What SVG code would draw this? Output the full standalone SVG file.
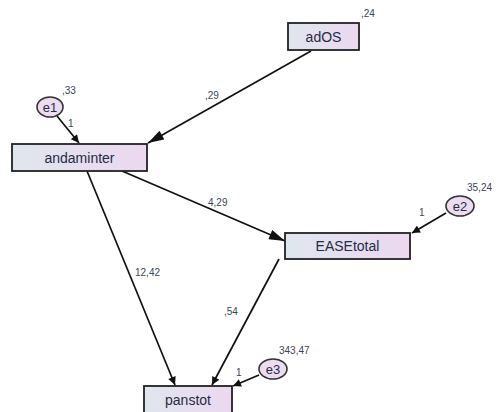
<svg xmlns="http://www.w3.org/2000/svg" width="503" height="412" viewBox="0 0 503 412">
<defs>
<linearGradient id="g" x1="0" y1="0" x2="1" y2="0">
<stop offset="0" stop-color="#dfe6ee"/>
<stop offset="1" stop-color="#ecd8f0"/>
</linearGradient>
<marker id="ah" viewBox="0 0 10 10" refX="10" refY="5" markerWidth="11" markerHeight="8" markerUnits="userSpaceOnUse" orient="auto">
<path d="M0,0 L10,5 L0,10 z" fill="#111"/>
</marker>
<marker id="ahb" viewBox="0 0 16 10" refX="16" refY="5" markerWidth="17" markerHeight="10" markerUnits="userSpaceOnUse" orient="auto">
<path d="M0,0 L16,5 L0,10 z" fill="#111"/>
</marker>
</defs>
<style>
.box{fill:url(#g);stroke:#222;stroke-width:1.8}
.err{fill:#ecdcf0;stroke:#333;stroke-width:1.6}
.nt{font-family:"Liberation Sans",Arial,sans-serif;font-size:14px;fill:#262b45;text-anchor:middle}
.et{font-family:"Liberation Sans",Arial,sans-serif;font-size:13px;fill:#262b45;text-anchor:middle}
.lb{font-family:"Liberation Sans",Arial,sans-serif;font-size:10px;fill:#3a4560}
.c{stroke:#111;stroke-width:1.7;fill:none}
</style>
<rect width="503" height="412" fill="#fff"/>
<g id="connectors">
<line class="c" x1="311" y1="51" x2="148" y2="143" marker-end="url(#ahb)"/>
<line class="c" x1="57" y1="116" x2="79" y2="143" marker-end="url(#ah)"/>
<line class="c" x1="122" y1="171" x2="285" y2="241" marker-end="url(#ahb)"/>
<line class="c" x1="446" y1="213" x2="412" y2="233" marker-end="url(#ah)"/>
<line class="c" x1="87" y1="171" x2="175" y2="385" marker-end="url(#ah)"/>
<line class="c" x1="279" y1="259" x2="212" y2="385" marker-end="url(#ah)"/>
<line class="c" x1="259" y1="375" x2="233" y2="386" marker-end="url(#ah)"/>
<text class="lb" x="205" y="99">,29</text>
<text class="lb" x="68" y="127">1</text>
<text class="lb" x="208" y="206">4,29</text>
<text class="lb" x="419" y="216">1</text>
<text class="lb" x="135" y="276">12,42</text>
<text class="lb" x="224" y="315">,54</text>
<text class="lb" x="236" y="376">1</text>
</g>
<g id="adOS">
<rect class="box" x="288" y="23" width="71" height="27"/>
<text class="nt" x="323.5" y="41.5">adOS</text>
<text class="lb" x="361" y="17">,24</text>
</g>
<g id="e1">
<ellipse class="err" cx="50" cy="107" rx="13" ry="10"/>
<text class="et" x="50" y="111.5">e1</text>
<text class="lb" x="62" y="94">,33</text>
</g>
<g id="andaminter">
<rect class="box" x="12" y="144" width="135" height="27"/>
<text class="nt" x="79.5" y="162.5">andaminter</text>
</g>
<g id="EASEtotal">
<rect class="box" x="285" y="233" width="125" height="26"/>
<text class="nt" x="347.5" y="251">EASEtotal</text>
</g>
<g id="e2">
<ellipse class="err" cx="460" cy="206" rx="14" ry="10"/>
<text class="et" x="460" y="210.5">e2</text>
<text class="lb" x="467" y="191">35,24</text>
</g>
<g id="e3">
<ellipse class="err" cx="273" cy="369" rx="14" ry="10"/>
<text class="et" x="273" y="373.5">e3</text>
<text class="lb" x="279" y="354">343,47</text>
</g>
<g id="panstot">
<rect class="box" x="144" y="386" width="88" height="30"/>
<text class="nt" x="188" y="405">panstot</text>
</g>
</svg>
